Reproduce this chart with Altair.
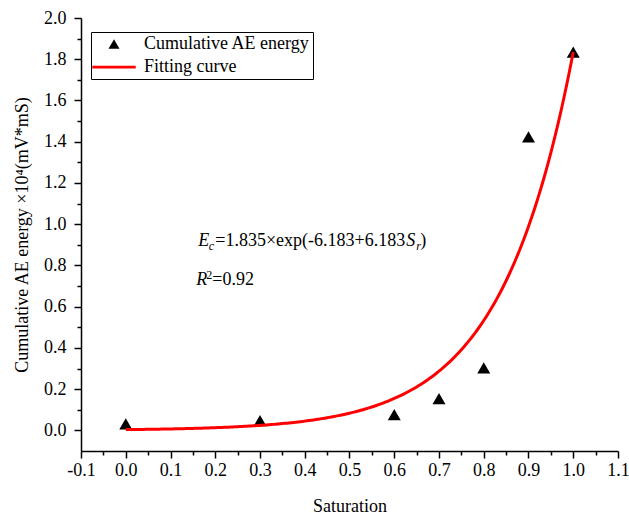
import altair as alt
import pandas as pd

# ---- data ----
saturation = [0.0, 0.3, 0.6, 0.7, 0.8, 0.9, 1.0]
ae_energy = [0.032, 0.047, 0.077, 0.154, 0.303, 1.423, 1.835]
series_names = ["Cumulative AE energy", "Fitting curve"]

# fitted equation constants shown on the chart: Ec = A*exp(-B + B*Sr)
FIT_A = 1.835
FIT_B = 6.183

x_ticks = [-0.1, -0.05, 0.0, 0.05, 0.1, 0.15, 0.2, 0.25, 0.3, 0.35, 0.4, 0.45,
           0.5, 0.55, 0.6, 0.65, 0.7, 0.75, 0.8, 0.85, 0.9, 0.95, 1.0, 1.05, 1.1]
y_ticks = [0.0, 0.1, 0.2, 0.3, 0.4, 0.5, 0.6, 0.7, 0.8, 0.9, 1.0,
           1.1, 1.2, 1.3, 1.4, 1.5, 1.6, 1.7, 1.8, 1.9, 2.0]

# annotation anchors (data units)
eq_x = 0.162
eq1_y = 0.893
eq2_y = 0.705

FONT = "Liberation Serif"

pts = pd.DataFrame({"sr": saturation, "ec": ae_energy,
                    "series": [series_names[0]] * len(saturation)})

x_scale = alt.Scale(domain=[-0.1, 1.1], nice=False, zero=False)
y_scale = alt.Scale(domain=[-0.1, 2.0], nice=False, zero=False)

x_axis = alt.Axis(
    values=x_ticks,
    labelExpr="abs(datum.value*10 - round(datum.value*10)) < 0.01 ? replace(format(datum.value, '.1f'), '\u2212', '-') : ''",
    tickSize={"condition": {"test": "abs(datum.value*10 - round(datum.value*10)) < 0.01", "value": 7}, "value": 4},
    title="Saturation", labelPadding=3, titlePadding=18, labelFlush=False,
    labelOverlap=False,
)
y_axis = alt.Axis(
    values=y_ticks,
    labelExpr="abs(datum.value*5 - round(datum.value*5)) < 0.01 ? replace(format(datum.value, '.1f'), '\u2212', '-') : ''",
    tickSize={"condition": {"test": "abs(datum.value*5 - round(datum.value*5)) < 0.01", "value": 7}, "value": 4},
    title="Cumulative AE energy \u00d710\u2074(mV*mS)", labelPadding=8, titlePadding=12,
    labelFlush=False, labelOverlap=False,
)

legend = alt.Legend(
    title=None, orient="none", legendX=10, legendY=14,
    strokeColor="black", fillColor="white", padding=3,
    symbolSize=121, symbolOffset=11, labelOffset=21, symbolStrokeWidth=0,
    symbolOpacity=1, labelFont=FONT, labelFontSize=18, labelColor="black",
    rowPadding=5, labelLimit=0,
)

X = alt.X("sr:Q", scale=x_scale, axis=x_axis)
Y = alt.Y("ec:Q", scale=y_scale, axis=y_axis)

points = alt.Chart(pts).mark_point(filled=True, size=169, opacity=1).encode(
    x=X, y=Y,
    color=alt.Color("series:N", scale=alt.Scale(domain=series_names, range=["black", "red"]), legend=legend),
    shape=alt.Shape("series:N", scale=alt.Scale(domain=series_names,
                    range=["triangle-up", "M-3.95,-0.25H3.95V0.25H-3.95Z"]), legend=legend),
)

curve = alt.Chart(alt.sequence(0, 1.0001, 0.005, as_="sr")).transform_calculate(
    ec=f"{FIT_A}*exp(-{FIT_B}+{FIT_B}*datum.sr)"
).mark_line(color="red", strokeWidth=3).encode(x=X, y=Y)

anchor1 = pd.DataFrame({"sr": [eq_x], "ec": [eq1_y]})
anchor2 = pd.DataFrame({"sr": [eq_x], "ec": [eq2_y]})


def piece(df, txt, size, style, dx, dy=0):
    return alt.Chart(df).mark_text(
        text=txt, font=FONT, fontSize=size, fontStyle=style, align="left",
        baseline="alphabetic", dx=dx, dy=dy, color="black"
    ).encode(x=X, y=Y)


texts = [
    piece(anchor1, "E", 18, "italic", 0),
    piece(anchor1, "c", 12, "italic", 10.5, 4),
    piece(anchor1, "=1.835\u00d7exp(-6.183+6.183", 18, "normal", 17),
    piece(anchor1, "S", 18, "italic", 208),
    piece(anchor1, "r", 12, "italic", 218, 4),
    piece(anchor1, ")", 18, "normal", 222),
    piece(anchor2, "R", 18, "italic", -2),
    piece(anchor2, "2", 12, "normal", 8, -6),
    piece(anchor2, "=0.92", 18, "normal", 14),
]

chart = alt.layer(points, curve, *texts).properties(
    width=537, height=433,
    autosize=alt.AutoSizeParams(type="none"),
    padding={"left": 81, "top": 18, "right": 11, "bottom": 65},
    background="white",
).configure_view(stroke=None).configure_axis(
    grid=False, domainColor="black", tickColor="black", domainWidth=1.5,
    tickWidth=1.5, labelFont=FONT, labelFontSize=18, labelColor="black",
    titleFont=FONT, titleFontSize=18, titleFontWeight="normal", titleColor="black",
    labelOverlap=False,
)

chart.save("out.html", embed_options={"renderer": "svg", "actions": False})
